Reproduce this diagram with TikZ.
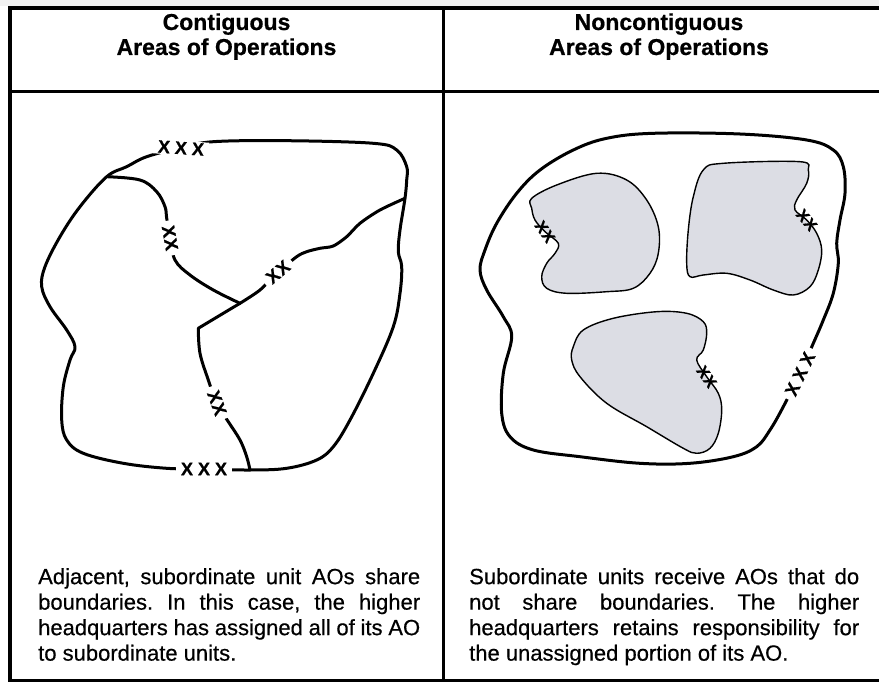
\documentclass[tikz,border=0pt]{standalone}
\usepackage{fontspec}
\newfontfamily\bodyfnt{Liberation Sans}[FakeBold=0.5]
\newfontfamily\headfnt{Liberation Sans Bold}[FakeBold=0.6]
\newfontfamily\markfnt{Liberation Sans Bold}[FakeBold=0.8]
\definecolor{zonegray}{RGB}{220,221,228}
\definecolor{bandgray}{RGB}{242,242,242}
\begin{document}
\frenchspacing
\begin{tikzpicture}[x=1pt,y=-1pt,
  frameline/.style={line width=3.4pt, line cap=rect},
  border/.style={line width=3pt, line join=round, line cap=round},
  zone/.style={draw, line width=1.4pt, fill=zonegray, line join=round},
  unitlbl/.style={font=\markfnt\fontsize{18}{18}\selectfont, inner sep=0pt},
  cutlbl/.style={unitlbl, fill=white, inner xsep=5pt, inner ysep=1pt},
  headtxt/.style={font=\headfnt\fontsize{23}{26}\selectfont, anchor=base, inner sep=0pt},
  bodytxt/.style={font=\bodyfnt\fontsize{22}{25.5}\selectfont, anchor=north west, inner sep=0pt, align=justify}
]
\useasboundingbox (0,0) rectangle (879,682);
\fill[bandgray] (0,0) rectangle (879,6);

% table frame
\coordinate (TL) at (10,8);   \coordinate (TR) at (879,8);
\coordinate (BL) at (10,680.5); \coordinate (BR) at (879,680.5);
\coordinate (DT) at (443,8);  \coordinate (DB) at (443,680.5);
\coordinate (HL) at (10,92);  \coordinate (HR) at (879,92);
\draw[frameline] (TR) -- (TL) -- (BL) -- (BR);
\draw[frameline, line width=3pt] (DT) -- (DB);
\draw[frameline, line width=3pt] (HL) -- (HR);

% column headings
\node[headtxt] (hl1) at (226.5,30) {Contiguous};
\node[headtxt] (hl2) at (226.5,55) {Areas of Operations};
\node[headtxt] (hr1) at (659,30) {Noncontiguous};
\node[headtxt] (hr2) at (659,55) {Areas of Operations};

% ---------- contiguous AOs ----------
\coordinate (J1) at (106.7,176.7);
\coordinate (J2) at (405,198.3);
\coordinate (J3) at (240,303.3);
\coordinate (J4) at (250,470);
\coordinate (K)  at (198.3,328.3);

\draw[border] plot[smooth cycle, tension=0.6] coordinates {
  (J1) (126.7,166.7) (146.7,156.7) (180,148) (213.3,141.7) (286.7,140.7)
  (373.3,143.3) (396.7,150) (406.7,166.7) (406.7,180) (J2) (400,230)
  (398.3,251.7) (401.7,266.7) (400,293.3) (393.3,326.7) (373.3,373.3)
  (350,420) (333.3,446.7) (316.7,460) (286.7,468.3) (J4) (203.3,469)
  (166.7,468.3) (123.3,463.3) (83.3,453.3) (66.7,440) (61.7,420)
  (63.3,386.7) (70,360) (75,346.7) (66.7,330) (50,306.7) (41.7,286.7)
  (45,266.7) (60,236.7) (80,206.7)};
\draw[border] plot[smooth, tension=0.6] coordinates {
  (J1) (140,180) (156.7,191.7) (165,206.7) (166.7,218.3) (170,236.7)
  (175,260) (190,275) (213.3,290) (J3)};
\draw[border] plot[smooth, tension=0.5] coordinates {
  (J3) (260,290) (276.7,273.3) (296.7,256.7) (306.7,251.7) (320,248.3)
  (333.3,246) (346.7,236.7) (360,223.3) (380,210) (J2)};
\draw[border] (J3) -- (K);
\draw[border] plot[smooth, tension=0.6] coordinates {
  (K) (200,353.3) (208.3,380) (216.7,403.3) (228.3,421.7) (240,440)
  (246.7,456.7) (J4)};

\node[cutlbl, rotate=-4] (ltop) at (181,148) {X\kern5pt X\kern5pt X};
\node[cutlbl] (lbot) at (204,469) {X\kern5pt X\kern5pt X};
\node[cutlbl, rotate=-80] (lxx1) at (170,238) {X\kern1pt X};
\node[cutlbl, rotate=40] (lxx2) at (278,272) {X\kern1pt X};
\node[cutlbl, rotate=-70] (lxx3) at (217,403) {X\kern1pt X};

% ---------- noncontiguous AOs ----------
\draw[border] plot[smooth cycle, tension=0.6] coordinates {
  (653.3,133.3) (740,134) (806.7,140) (833.3,150) (843.3,166.7)
  (845,193.3) (840,220) (836.7,243.3) (838.3,263.3) (833.3,293.3)
  (823.3,320) (813.3,343.3) (800,373.3) (783.3,406.7) (770,430)
  (756.7,446.7) (733.3,456.7) (690,463.3) (640,463.3) (580,456.7)
  (533.3,450) (510,436.7) (501.7,413.3) (503.3,373.3) (511.7,336.7)
  (503.3,316.7) (486.7,290) (480,270) (485,250) (496.7,223.3)
  (516.7,193.3) (540,170) (573.3,150) (606.7,138.3)};
\node[cutlbl, rotate=64] (rxxx) at (800,374) {X\kern5pt X\kern5pt X};

\draw[zone] plot[smooth cycle, tension=0.6] coordinates {
  (531.7,198.3) (556.7,185) (596.7,173.3) (626.7,180) (646.7,200)
  (658.3,226.7) (658.3,253.3) (650,273.3) (633.3,288.3) (606.7,291.7)
  (566.7,293.3) (546.7,288.3) (541.7,276.7) (546.7,263.3) (555,253.3)
  (558.3,243.3) (545,231.7) (535,220) (531.7,208.3)};
\draw[zone] plot[smooth cycle, tension=0.6] coordinates {
  (703.3,170) (723.3,163.3) (800,161.7) (808.3,170) (806.7,183.3)
  (796.7,200) (795,210) (806.7,220) (816.7,233.3) (821.7,250)
  (818.3,270) (810,286.7) (793.3,295) (773.3,290) (750,280)
  (726.7,273.3) (703.3,275) (690,276.7) (686.7,263.3) (688.3,230)
  (693.3,196.7)};
\draw[zone] plot[smooth cycle, tension=0.6] coordinates {
  (573.3,346.7) (583.3,330) (613.3,318.3) (656.7,311.7) (686.7,313.3)
  (703.3,321.7) (706.7,333.3) (703.3,350) (696.7,360) (706.7,376.7)
  (718.3,393.3) (721.7,410) (718.3,433.3) (710,448.3) (696.7,453.3)
  (683.3,448.3) (646.7,426.7) (606.7,403.3) (580,376.7) (571.7,360)};
\node[unitlbl, rotate=-55, font=\markfnt\fontsize{16}{16}\selectfont] (axx) at (545,231.7) {X\kern1pt X};
\node[unitlbl, rotate=-50, font=\markfnt\fontsize{16}{16}\selectfont] (bxx) at (806.7,220) {X\kern1pt X};
\node[unitlbl, rotate=-55, font=\markfnt\fontsize{16}{16}\selectfont] (cxx) at (706.7,376.7) {X\kern1pt X};

% ---------- captions ----------
\node[bodytxt, text width=382pt] (capl) at (38,568) {%
  Adjacent, subordinate unit AOs share\linebreak
  boundaries. In this case, the higher\linebreak
  headquarters has assigned all of its AO\linebreak
  to subordinate units.};
\node[bodytxt, text width=390pt] (capr) at (469,568) {%
  \parfillskip=0pt
  Subordinate units receive AOs that do\linebreak
  not share boundaries. The higher\linebreak
  headquarters retains responsibility for\linebreak
  the unassigned portion of its AO.};
\end{tikzpicture}
\end{document}
